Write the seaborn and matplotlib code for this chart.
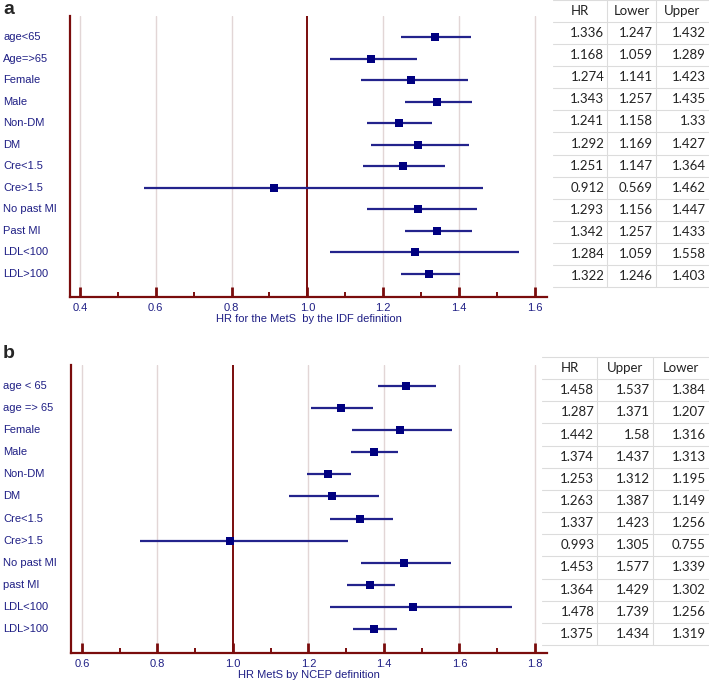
import numpy as np
import pandas as pd
import seaborn as sns
import matplotlib.pyplot as plt
from matplotlib.ticker import MultipleLocator, FormatStrFormatter

sns.set_style('white')
plt.rcParams['font.family'] = ['Liberation Sans', 'DejaVu Sans']

# panel a - IDF definition
labels_a = ['age<65', 'Age=>65', 'Female', 'Male', 'Non-DM', 'DM', 'Cre<1.5',
            'Cre>1.5', 'No past MI', 'Past MI', 'LDL<100', 'LDL>100']
hr_a = [1.336, 1.168, 1.274, 1.343, 1.241, 1.292, 1.251, 0.912, 1.293, 1.342, 1.284, 1.322]
lower_a = [1.247, 1.059, 1.141, 1.257, 1.158, 1.169, 1.147, 0.569, 1.156, 1.257, 1.059, 1.246]
upper_a = [1.432, 1.289, 1.423, 1.435, 1.33, 1.427, 1.364, 1.462, 1.447, 1.433, 1.558, 1.403]
tab_a_cols = ['HR', 'Lower', 'Upper']
tab_a_txt = [['1.336', '1.247', '1.432'], ['1.168', '1.059', '1.289'], ['1.274', '1.141', '1.423'],
             ['1.343', '1.257', '1.435'], ['1.241', '1.158', '1.33'], ['1.292', '1.169', '1.427'],
             ['1.251', '1.147', '1.364'], ['0.912', '0.569', '1.462'], ['1.293', '1.156', '1.447'],
             ['1.342', '1.257', '1.433'], ['1.284', '1.059', '1.558'], ['1.322', '1.246', '1.403']]

# panel b - NCEP definition
labels_b = ['age < 65', 'age => 65', 'Female', 'Male', 'Non-DM', 'DM', 'Cre<1.5',
            'Cre>1.5', 'No past MI', 'past MI', 'LDL<100', 'LDL>100']
hr_b = [1.458, 1.287, 1.442, 1.374, 1.253, 1.263, 1.337, 0.993, 1.453, 1.364, 1.478, 1.375]
upper_b = [1.537, 1.371, 1.58, 1.437, 1.312, 1.387, 1.423, 1.305, 1.577, 1.429, 1.739, 1.434]
lower_b = [1.384, 1.207, 1.316, 1.313, 1.195, 1.149, 1.256, 0.755, 1.339, 1.302, 1.256, 1.319]
tab_b_cols = ['HR', 'Upper', 'Lower']
tab_b_txt = [['1.458', '1.537', '1.384'], ['1.287', '1.371', '1.207'], ['1.442', '1.58', '1.316'],
             ['1.374', '1.437', '1.313'], ['1.253', '1.312', '1.195'], ['1.263', '1.387', '1.149'],
             ['1.337', '1.423', '1.256'], ['0.993', '1.305', '0.755'], ['1.453', '1.577', '1.339'],
             ['1.364', '1.429', '1.302'], ['1.478', '1.739', '1.256'], ['1.375', '1.434', '1.319']]

RED = '#7a0c0c'
NAVY = '#000080'
LINE = '#23238c'
TXT = '#1f1f85'
GRID = '#e2d6d6'

W, H = 709, 687
fig = plt.figure(figsize=(W / 100, H / 100), dpi=100)


def px_axes(x0, y0, x1, y1):
    # axes from pixel box (top-left origin)
    return fig.add_axes([x0 / W, 1 - y1 / H, (x1 - x0) / W, (y1 - y0) / H])


def forest(ax, labels, hr, lo, hi, xlim, ylim, ticks, xlabel):
    df = pd.DataFrame({'label': labels, 'hr': hr, 'lo': lo, 'hi': hi,
                       'row': np.arange(1, len(labels) + 1)})
    for t in ticks:
        if abs(t - 1.0) > 1e-9:
            ax.axvline(t, color=GRID, lw=1, zorder=0)
    ax.axvline(1.0, color=RED, lw=1.4, zorder=1)
    ax.hlines(df['row'], df['lo'], df['hi'], color=LINE, lw=1.6, zorder=2)
    sns.scatterplot(data=df, x='hr', y='row', marker='s', s=40, color=NAVY,
                    edgecolor=NAVY, linewidth=0, ax=ax, zorder=3, legend=False)
    ax.set_xlim(*xlim)
    ax.set_ylim(*ylim)
    ax.set_yticks([])
    ax.set_ylabel('')
    ax.xaxis.set_major_locator(MultipleLocator(0.2))
    ax.xaxis.set_minor_locator(MultipleLocator(0.1))
    ax.xaxis.set_major_formatter(FormatStrFormatter('%.1f'))
    ax.tick_params(axis='x', which='major', direction='in', length=7, width=2,
                   color=RED, labelcolor=TXT, labelsize=8, pad=4, bottom=True)
    ax.tick_params(axis='x', which='minor', direction='in', length=3.5, width=1.4,
                   color=RED, bottom=True)
    ax.set_xlabel(xlabel, color=TXT, fontsize=8, labelpad=1)
    for s in ['top', 'right']:
        ax.spines[s].set_visible(False)
    for s in ['left', 'bottom']:
        ax.spines[s].set_color(RED)
        ax.spines[s].set_linewidth(1.6)
    ax.set_facecolor('none')
    # row labels on the left edge of the figure
    for r, lab in zip(df['row'], df['label']):
        ax.annotate(lab, xy=(3 / W, r), xycoords=('figure fraction', 'data'),
                    ha='left', va='center', fontsize=8, color=TXT)


def table(ax, cols, rows, xs):
    nrow = len(rows) + 1
    ax.set_xlim(xs[0], xs[-1])
    ax.set_ylim(nrow, 0)
    ax.axis('off')
    tcol = '#dcdcdc'
    for i in range(nrow + 1):
        ax.plot([xs[0], xs[-1]], [i, i], color=tcol, lw=0.8, clip_on=False)
    for x in xs[1:-1]:
        ax.plot([x, x], [0, nrow], color=tcol, lw=0.8, clip_on=False)
    fam = ['Liberation Sans Narrow', 'Lato', 'DejaVu Sans']
    for j, c in enumerate(cols):
        ax.text((xs[j] + xs[j + 1]) / 2, 0.5, c, ha='center', va='center',
                fontsize=9.5, color='#222222', family=fam)
    for i, row in enumerate(rows):
        for j, v in enumerate(row):
            ax.text(xs[j + 1] - 3, i + 1.5, v, ha='right', va='center',
                    fontsize=9.5, color='#222222', family=fam)


ax_a = px_axes(70, 16, 547, 297)
forest(ax_a, labels_a, hr_a, lower_a, upper_a, (0.374, 1.632), (13.07, 0.026),
       np.arange(0.4, 1.61, 0.2), 'HR for the MetS  by the IDF definition')

ax_b = px_axes(71, 365, 547, 653)
forest(ax_b, labels_b, hr_b, lower_b, upper_b, (0.571, 1.832), (13.09, 0.049),
       np.arange(0.6, 1.81, 0.2), 'HR MetS by NCEP definition')

tab_a = px_axes(553, 0, 709, 287)
table(tab_a, tab_a_cols, tab_a_txt, [553, 607, 655, 708])

tab_b = px_axes(542, 357, 709, 645)
table(tab_b, tab_b_cols, tab_b_txt, [542, 597, 652, 708])

fig.text(3 / W, 1 - 9 / H, 'a', fontsize=14, fontweight='bold', ha='left', va='center')
fig.text(3 / W, 1 - 354 / H, 'b', fontsize=14, fontweight='bold', ha='left', va='center')

fig.savefig('out.png', dpi=100, facecolor='white')
